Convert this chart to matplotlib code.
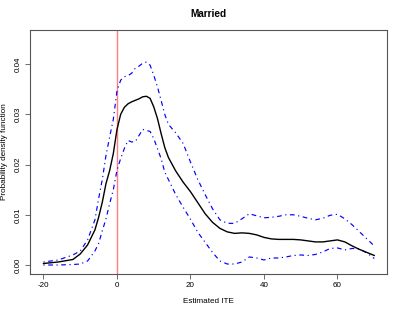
import numpy as np
import matplotlib
matplotlib.use('Agg')
import matplotlib.pyplot as plt

# estimated ITE grid and density curves (mean with upper / lower bands)
ite = [-20, -16, -12, -10, -8, -6, -5, -4, -3, -2, -1, 0, 1, 2, 3, 4, 5, 6, 7, 8, 9, 10,
       11, 12, 13, 14, 16, 18, 20, 22, 24, 26, 28, 30, 32, 34, 36, 38, 40, 42, 44, 46,
       48, 50, 52, 54, 56, 58, 60, 62, 64, 66, 68, 70]
dens_mean = [0.0003, 0.0006, 0.0011, 0.0022, 0.0040, 0.0070, 0.0095, 0.0125, 0.0162, 0.0188,
             0.0222, 0.0270, 0.0300, 0.0314, 0.0321, 0.0325, 0.0328, 0.0331, 0.0335, 0.0336,
             0.0332, 0.0315, 0.0292, 0.0262, 0.0234, 0.0214, 0.0187, 0.0165, 0.0146, 0.0124,
             0.0102, 0.0085, 0.0073, 0.0066, 0.0063, 0.0064, 0.0063, 0.0060, 0.0055, 0.0052,
             0.0051, 0.0051, 0.0051, 0.0050, 0.0048, 0.0046, 0.0046, 0.0048, 0.0050, 0.0046,
             0.0038, 0.0031, 0.0025, 0.0019]
dens_upper = [0.0006, 0.0010, 0.0020, 0.0028, 0.0050, 0.0090, 0.0132, 0.0170, 0.0218, 0.0255,
              0.0290, 0.0347, 0.0368, 0.0375, 0.0377, 0.0382, 0.0392, 0.0396, 0.0402, 0.0404,
              0.0398, 0.0378, 0.0355, 0.0328, 0.0300, 0.0280, 0.0263, 0.0242, 0.0205, 0.0170,
              0.0140, 0.0112, 0.0090, 0.0083, 0.0083, 0.0092, 0.0102, 0.0098, 0.0094, 0.0095,
              0.0097, 0.0100, 0.0100, 0.0097, 0.0093, 0.0090, 0.0093, 0.0099, 0.0101, 0.0092,
              0.0080, 0.0066, 0.0052, 0.0038]
dens_lower = [0.0000, 0.0000, 0.0001, 0.0002, 0.0008, 0.0028, 0.0043, 0.0068, 0.0092, 0.0122,
              0.0150, 0.0189, 0.0212, 0.0232, 0.0248, 0.0245, 0.0246, 0.0258, 0.0270, 0.0268,
              0.0266, 0.0252, 0.0232, 0.0212, 0.0185, 0.0170, 0.0140, 0.0115, 0.0091, 0.0065,
              0.0045, 0.0025, 0.0008, 0.0002, 0.0002, 0.0006, 0.0016, 0.0014, 0.0010, 0.0014,
              0.0014, 0.0016, 0.0019, 0.0020, 0.0019, 0.0021, 0.0026, 0.0033, 0.0034, 0.0030,
              0.0033, 0.0032, 0.0024, 0.0013]
xticks = [-20, 0, 20, 40, 60]
yticks = [0.00, 0.01, 0.02, 0.03, 0.04]

plt.rcParams['font.family'] = ['Liberation Sans', 'DejaVu Sans']

fig = plt.figure(figsize=(4.03, 3.12), dpi=100)
ax = fig.add_axes([30 / 403, 38 / 312, 357 / 403, 244 / 312])

ax.axvline(0, color='#ff7f7f', lw=1.0, zorder=1)
dd = (0, (1, 3, 4, 3))
ax.plot(ite, dens_upper, color='blue', lw=0.85, ls=dd)
ax.plot(ite, dens_lower, color='blue', lw=0.85, ls=dd)
ax.plot(ite, dens_mean, color='black', lw=1.0)

ax.set_xlim(-23.67, 73.47)
ax.set_ylim(-0.00179, 0.0468)
ax.set_xticks(xticks)
ax.set_xticklabels([str(t) for t in xticks])
ax.set_yticks(yticks)
ax.set_yticklabels([f'{t:.2f}' for t in yticks], rotation=90, va='center')

for s in ax.spines.values():
    s.set_color('#555555')
    s.set_linewidth(0.8)
ax.tick_params(direction='out', length=3.6, width=0.6, color='#555555',
               labelsize=5.8, pad=2.5)

ax.set_xlabel('Estimated ITE', fontsize=5.9, labelpad=6)
ax.set_ylabel('Probability density function', fontsize=5.9, labelpad=5)
fig.text(208.5 / 403, 1 - 14 / 312, 'Married', ha='center', va='center',
         fontsize=7.2, fontweight='bold')

fig.savefig('out.png', dpi=100)
